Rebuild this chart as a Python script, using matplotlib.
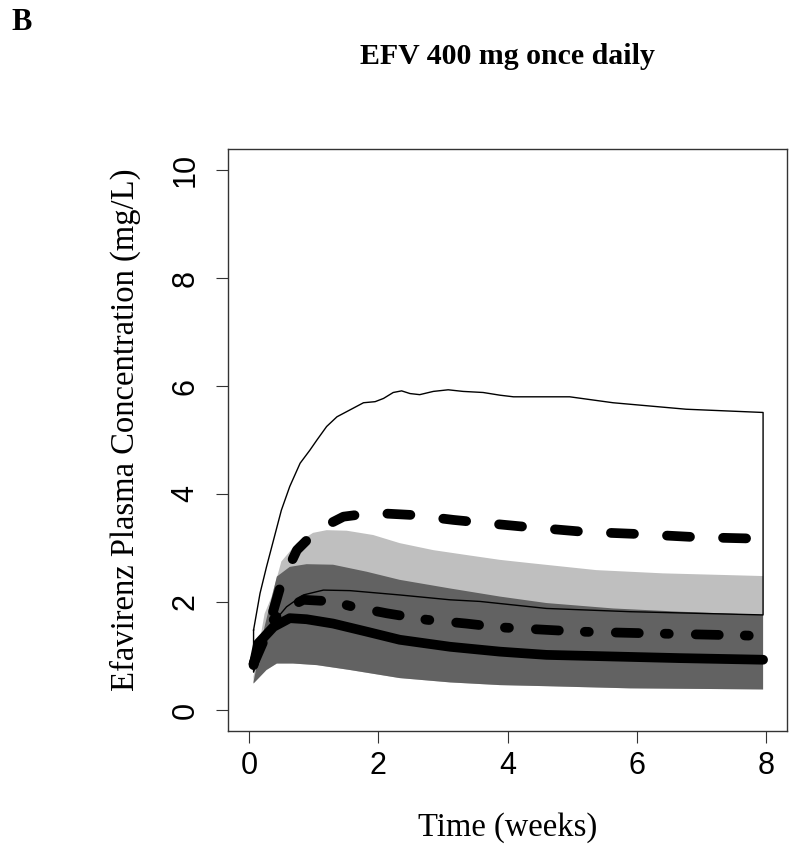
import matplotlib
matplotlib.use("Agg")
import matplotlib.pyplot as plt
import numpy as np

# weeks / mg/L
upper_x = [0.07, 0.17, 0.27, 0.5, 0.63, 0.79, 0.94, 1.05, 1.2, 1.36, 1.77, 1.95, 2.08, 2.23,
           2.36, 2.49, 2.64, 2.85, 3.08, 3.31, 3.62, 3.88, 4.09, 4.96, 5.63, 6.76, 7.95]
upper_y = [1.48, 2.16, 2.65, 3.70, 4.14, 4.57, 4.81, 5.00, 5.25, 5.43, 5.69, 5.71, 5.77, 5.88,
           5.91, 5.86, 5.84, 5.90, 5.93, 5.90, 5.88, 5.83, 5.80, 5.80, 5.69, 5.57, 5.51]

lower_x = [0.07, 0.32, 0.58, 0.84, 1.15, 1.56, 2.33, 3.11, 3.57, 4.6, 5.89, 6.92, 7.95]
lower_y = [0.70, 1.54, 1.91, 2.13, 2.22, 2.21, 2.13, 2.04, 2.01, 1.88, 1.82, 1.79, 1.76]

light_hi_x = [0.07, 0.24, 0.35, 0.5, 0.74, 0.99, 1.2, 1.51, 1.92, 2.33, 2.85, 3.36, 3.88,
              4.34, 5.37, 6.40, 7.95]
light_hi_y = [0.62, 1.78, 2.10, 2.75, 3.09, 3.28, 3.33, 3.32, 3.24, 3.09, 2.96, 2.87, 2.78,
              2.72, 2.59, 2.53, 2.48]

dark_hi_x = [0.07, 0.24, 0.43, 0.63, 0.89, 1.30, 1.82, 2.33, 3.11, 3.88, 4.6, 5.63, 6.66, 7.95]
dark_hi_y = [0.52, 1.54, 2.47, 2.65, 2.70, 2.69, 2.56, 2.41, 2.25, 2.10, 1.98, 1.88, 1.82, 1.76]

dark_lo_x = [0.07, 0.27, 0.43, 0.68, 1.05, 1.56, 2.33, 3.11, 3.88, 4.6, 5.89, 6.92, 7.95]
dark_lo_y = [0.49, 0.74, 0.86, 0.86, 0.83, 0.74, 0.59, 0.51, 0.46, 0.44, 0.40, 0.39, 0.38]

median_x = [0.07, 0.14, 0.38, 0.63, 0.89, 1.30, 1.82, 2.33, 3.11, 3.88, 4.6, 5.63, 6.66, 7.95]
median_y = [0.83, 1.23, 1.54, 1.70, 1.68, 1.60, 1.45, 1.30, 1.17, 1.08, 1.02, 0.99, 0.96, 0.93]

dashdot_x = [0.07, 0.27, 0.53, 0.84, 1.30, 1.61, 2.13, 2.75, 3.36, 3.88, 5.12, 6.15, 7.64, 7.95]
dashdot_y = [0.86, 1.54, 1.85, 2.04, 2.01, 1.91, 1.79, 1.67, 1.60, 1.53, 1.45, 1.42, 1.38, 1.37]

dashed_x = [0.07, 0.27, 0.5, 0.74, 1.05, 1.46, 1.92, 2.54, 3.16, 3.67, 4.29, 5.17, 5.99, 6.92, 7.95]
dashed_y = [0.85, 1.40, 2.35, 2.96, 3.33, 3.58, 3.65, 3.61, 3.52, 3.46, 3.39, 3.30, 3.26, 3.20, 3.17]

xticks = [0, 2, 4, 6, 8]
yticks = [0, 2, 4, 6, 8, 10]

W, H = 800, 858
fig = plt.figure(figsize=(W / 100, H / 100), dpi=100)
ax = fig.add_axes([227.7 / W, 1 - 731 / H, (787 - 227.7) / W, (731 - 149) / H])

def band(ax, xa, ya, xb, yb, color):
    px = list(xa) + list(xb)[::-1]
    py = list(ya) + list(yb)[::-1]
    ax.fill(px, py, color=color, lw=0)

band(ax, light_hi_x, light_hi_y, dark_lo_x, dark_lo_y, "#bfbfbf")
band(ax, dark_hi_x, dark_hi_y, dark_lo_x, dark_lo_y, "#626262")

# thin outline polygon
px = upper_x + lower_x[::-1] + upper_x[:1]
py = upper_y + lower_y[::-1] + upper_y[:1]
ax.plot(px, py, color="black", lw=1.0)

lw = 7
ax.plot(median_x, median_y, color="black", lw=lw, solid_capstyle="round", solid_joinstyle="round")
ax.plot(dashdot_x, dashdot_y, color="black", lw=lw, dash_capstyle="round",
        dashes=(16.6 / lw, 18.7 / lw, 2.9 / lw, 19.4 / lw))
ax.plot(dashed_x, dashed_y, color="black", lw=lw, dash_capstyle="round",
        dashes=(16.6 / lw, 23.8 / lw))

ax.set_xlim(-0.33, 8.32)
ax.set_ylim(-0.39, 10.39)
ax.set_xticks(xticks)
ax.set_yticks(yticks)
ax.set_xticklabels([str(v) for v in xticks], fontsize=22, family="Liberation Sans")
ax.set_yticklabels([str(v) for v in yticks], fontsize=22, family="Liberation Sans",
                   rotation=90, va="center")
ax.tick_params(axis="both", length=8.6, width=0.8, color="#333333")
ax.tick_params(axis="x", pad=6)
ax.tick_params(axis="y", pad=11)
for s in ax.spines.values():
    s.set_linewidth(1.0)
    s.set_color("#333333")

def ftext(x, y, s, **kw):
    fig.text(x / W, 1 - y / H, s, ha="center", va="center", family="Liberation Serif", **kw)

ftext(22, 22, "B", fontsize=22, weight="bold")
ftext(507, 57, "EFV 400 mg once daily", fontsize=21.5, weight="bold")
ftext(508, 828, "Time (weeks)", fontsize=23.5)
ftext(125, 430, "Efavirenz Plasma Concentration (mg/L)", fontsize=23.5, rotation=90)

fig.savefig("out.png", dpi=100)
